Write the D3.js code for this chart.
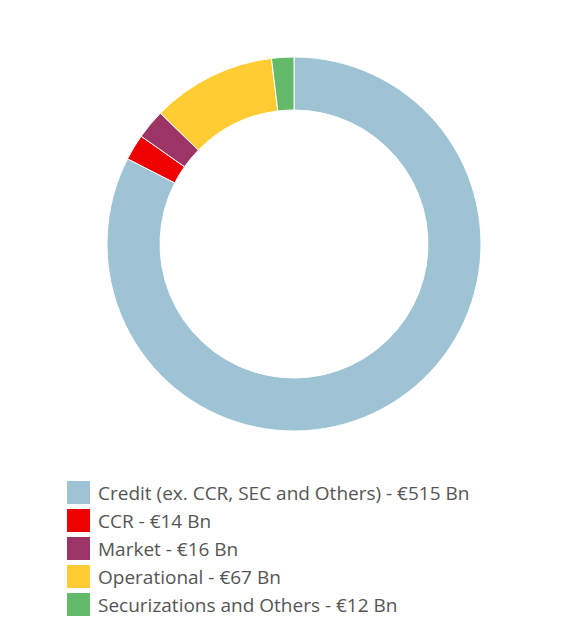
<!DOCTYPE html>
<html><head><meta charset="utf-8">
<script src="https://cdn.jsdelivr.net/npm/d3@7"></script>
<style>body{margin:0;background:#fff}</style>
</head><body><svg id="chart"></svg>
<script>
// data
var categories = ["Credit (ex. CCR, SEC and Others)", "CCR", "Market", "Operational", "Securizations and Others"];
var values = [515, 14, 16, 67, 12];
var colors = ["#9dc3d4", "#ec0000", "#9c3466", "#ffcc33", "#63ba68"];

var width = 588, height = 642;
var svg = d3.select("#chart").attr("width", width).attr("height", height);

var data = categories.map(function(c, i){ return {name: c, value: values[i], color: colors[i]}; });

var pie = d3.pie().sort(null).value(function(d){ return d.value; });
var arc = d3.arc().innerRadius(134).outerRadius(187);

svg.append("g")
  .attr("transform", "translate(294,244)")
  .selectAll("path")
  .data(pie(data))
  .enter().append("path")
    .attr("d", arc)
    .attr("fill", function(d){ return d.data.color; })
    .attr("stroke", "#fff")
    .attr("stroke-width", 1);

// legend
var legend = svg.append("g").attr("transform", "translate(67,481)");
var rows = legend.selectAll("g").data(data).enter().append("g")
  .attr("transform", function(d, i){ return "translate(0," + (i * 28) + ")"; });
rows.append("rect").attr("width", 23).attr("height", 23).attr("fill", function(d){ return d.color; });
rows.append("text")
  .attr("x", 31).attr("y", 19)
  .attr("font-family", "Open Sans, sans-serif")
  .attr("font-size", 19)
  .attr("fill", "#555")
  .text(function(d){ return d.name + " - €" + d.value + " Bn"; });
</script></body></html>
